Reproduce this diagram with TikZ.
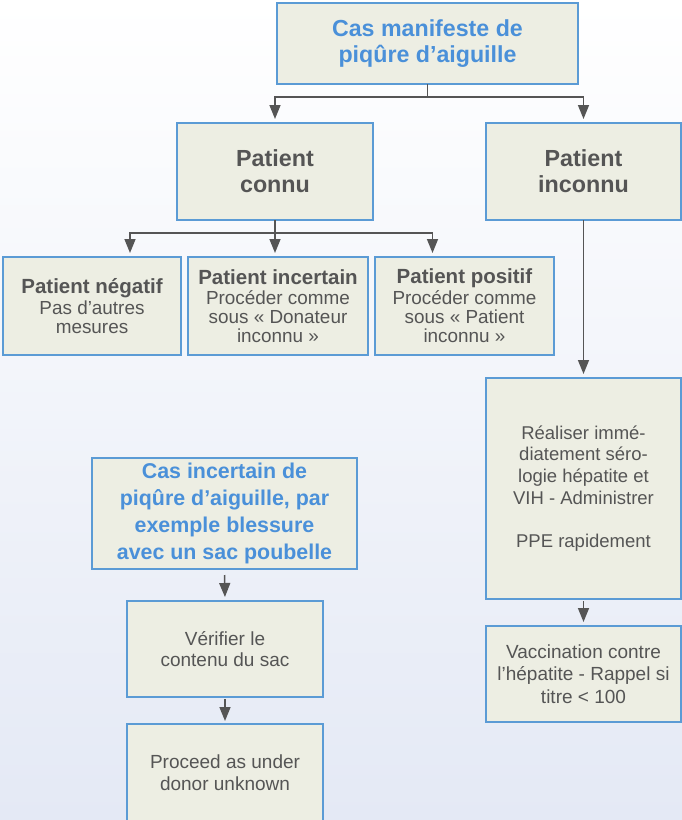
\documentclass[tikz,border=0pt]{standalone}
\usepackage{fontspec}
\setmainfont{Liberation Sans}
\usetikzlibrary{arrows.meta,calc}
\definecolor{boxfill}{RGB}{237,238,227}
\definecolor{boxline}{RGB}{91,155,213}
\definecolor{txtgray}{RGB}{85,85,85}
\definecolor{titleblue}{RGB}{74,144,217}
\definecolor{arrgray}{RGB}{85,85,85}
\definecolor{bgbottom}{RGB}{228,233,245}
\tikzset{
  box/.style={draw=boxline, line width=2pt, fill=boxfill, inner sep=0pt, outer sep=0pt,
    align=center, text=txtgray, font=\fontsize{19}{21.5}\selectfont},
  pbox/.style={box, font=\fontsize{18.9}{19}\selectfont},
  bluetitle/.style={text=titleblue, font=\bfseries\fontsize{23.2}{26}\selectfont},
  graytitle/.style={font=\bfseries\fontsize{23.3}{26}\selectfont},
  cline/.style={draw=arrgray, line width=1.5pt},
  conn/.style={cline, -{Triangle[length=14pt,width=11pt]}, shorten >=4pt}
}
\newcommand{\ptitle}[1]{{\bfseries\fontsize{20.5}{20}\selectfont #1}}
\begin{document}
\begin{tikzpicture}[x=1pt,y=-1pt]
\useasboundingbox (0,0) rectangle (682,820);
\shade[top color=white, bottom color=bgbottom] (0,0) rectangle (682,820);

% nodes
\node[box, bluetitle, minimum width=301pt, minimum height=81pt] (top) at (427.5,43.5)
  {Cas manifeste de\\piqûre d’aiguille};
\node[box, graytitle, minimum width=196pt, minimum height=97pt] (connu) at (275,171.5)
  {Patient\\connu};
\node[box, graytitle, minimum width=195pt, minimum height=97pt] (inconnu) at (583.5,171.5)
  {Patient\\inconnu};
\node[pbox, minimum width=178pt, minimum height=98pt] (neg) at (92,306)
  {\ptitle{Patient négatif}\\[2pt]Pas d’autres\\mesures};
\node[pbox, minimum width=180pt, minimum height=98pt] (incert) at (278,306)
  {\ptitle{Patient incertain}\\[1pt]Procéder comme\\sous « Donateur\\inconnu »};
\node[pbox, minimum width=179pt, minimum height=98pt] (pos) at (464.5,306)
  {\ptitle{Patient positif}\\[2pt]Procéder comme\\sous « Patient\\inconnu »};
\node[box, font=\fontsize{18.5}{21.7}\selectfont, minimum width=195pt, minimum height=221pt] (real) at (583.5,488.5)
  {Réaliser immé-\\diatement séro-\\logie hépatite et\\VIH - Administrer\\[21.7pt]PPE rapidement};
\node[box, font=\fontsize{19}{22.7}\selectfont, minimum width=195pt, minimum height=96pt] (vacc) at (583.5,674)
  {Vaccination contre\\l’hépatite - Rappel si\\titre < 100};
\node[box, bluetitle, font=\bfseries\fontsize{21.4}{27}\selectfont, minimum width=265pt, minimum height=111pt] (casinc) at (224.5,513.5)
  {Cas incertain de\\piqûre d’aiguille, par\\exemple blessure\\avec un sac poubelle};
\node[box, minimum width=196pt, minimum height=96pt] (verif) at (225,649)
  {Vérifier le\\contenu du sac};
\node[box, minimum width=196pt, minimum height=97pt] (proc) at (225,772.5)
  {Proceed as under\\donor unknown};

% connectors
\coordinate (j0) at (top.south |- 0,97);
\draw[cline] (top.south) -- (j0);
\draw[conn] (j0) -| (connu.north);
\draw[conn] (j0) -| (inconnu.north);

\coordinate (j1) at (connu.south |- 0,233);
\draw[cline] (connu.south) -- (j1);
\draw[conn] (j1) -| ([xshift=38pt]neg.north);
\draw[conn] (j1) -- (j1 |- incert.north);
\draw[conn] (j1) -| ([xshift=-32pt]pos.north);

\draw[conn] (inconnu.south) -- (real.north);
\draw[conn, shorten <=2pt] (real.south) -- (vacc.north);
\draw[conn, shorten <=6pt] (casinc.south) -- (verif.north);
\draw[conn, shorten <=2pt, shorten >=3pt] (verif.south) -- (proc.north);
\end{tikzpicture}
\end{document}
